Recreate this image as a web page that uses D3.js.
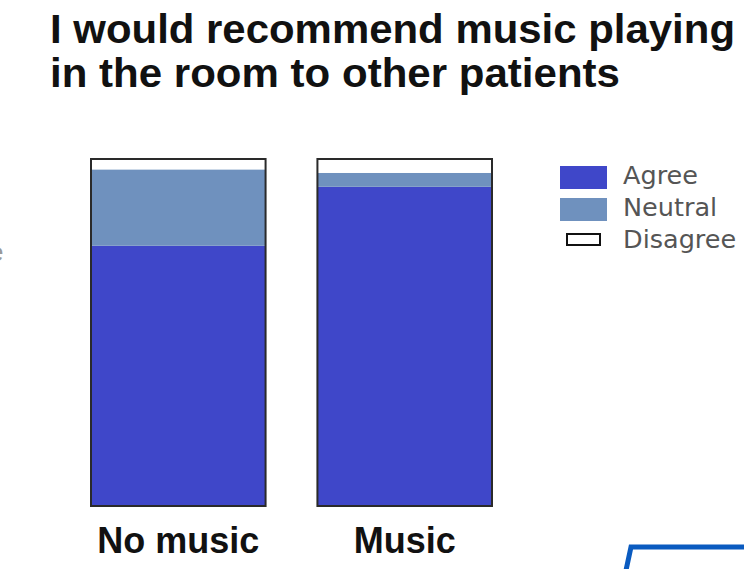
<!DOCTYPE html>
<html>
<head>
<meta charset="utf-8">
<script src="https://cdn.jsdelivr.net/npm/d3@7"></script>
<style>
  html, body { margin: 0; padding: 0; background: #fff; }
  svg { display: block; }
</style>
</head>
<body>
<svg id="chart" width="744" height="569"></svg>
<script>
const categories = ["No music", "Music"];
const seriesKeys = ["Agree", "Neutral", "Disagree"];
const agree = [75, 92];
const neutral = [22, 4];
const disagree = [3, 4];
const titleLines = ["I would recommend music playing", "in the room to other patients"];

const colors = { Agree: "#3f47c9", Neutral: "#6f91be", Disagree: "#ffffff" };

const rows = categories.map((c, i) => ({ cat: c, Agree: agree[i], Neutral: neutral[i], Disagree: disagree[i] }));

const svg = d3.select("#chart");
const font = "'Liberation Sans', Arial, sans-serif";

// Title
const title = svg.append("g");
title.append("text").attr("x", 50).attr("y", 43).attr("textLength", 685).text(titleLines[0]);
title.append("text").attr("x", 50).attr("y", 87).attr("textLength", 570).text(titleLines[1]);
title.selectAll("text")
  .attr("font-family", font).attr("font-weight", "bold")
  .attr("lengthAdjust", "spacingAndGlyphs")
  .attr("font-size", 40).attr("fill", "#111");

// Fragment at left edge
svg.append("text").attr("x", -11).attr("y", 261).attr("font-family", font)
  .attr("font-size", 26).attr("fill", "#999").text("e");

const x = d3.scaleBand().domain(categories).range([91, 492]).paddingInner(0.229).paddingOuter(0);
const y = d3.scaleLinear().domain([0, 100]).range([506, 159]);

const stack = d3.stack().keys(seriesKeys);
const stacked = stack(rows);

const gBars = svg.append("g");
gBars.selectAll("g.series").data(stacked).join("g")
  .attr("class", "series")
  .attr("fill", d => colors[d.key])
  .selectAll("rect").data(d => d).join("rect")
  .attr("x", d => x(d.data.cat))
  .attr("width", x.bandwidth())
  .attr("y", d => y(d[1]))
  .attr("height", d => y(d[0]) - y(d[1]));

// Outline
gBars.selectAll("rect.outline").data(rows).join("rect")
  .attr("class", "outline")
  .attr("x", d => x(d.cat))
  .attr("y", y(100))
  .attr("width", x.bandwidth())
  .attr("height", y(0) - y(100))
  .attr("fill", "none").attr("stroke", "#2a2a2a").attr("stroke-width", 2);

// Category axis labels
const xAxis = d3.axisBottom(x).tickSize(0).tickPadding(0);
const ax = svg.append("g").attr("transform", "translate(0,527)").call(xAxis);
ax.select(".domain").remove();
ax.selectAll("text")
  .attr("font-family", font).attr("font-weight", "bold")
  .attr("font-size", 36).attr("fill", "#111").attr("dy", "0.71em");

// Legend
const legend = svg.append("g");
const legY = [184, 216, 248];
seriesKeys.forEach((k, i) => {
  if (k === "Disagree") {
    legend.append("rect").attr("x", 567).attr("y", legY[i] - 14).attr("width", 33).attr("height", 11)
      .attr("fill", "#fff").attr("stroke", "#111").attr("stroke-width", 2);
  } else {
    legend.append("rect").attr("x", 560).attr("y", legY[i] - 18).attr("width", 47).attr("height", 23)
      .attr("fill", colors[k]);
  }
  legend.append("text").attr("x", 623).attr("y", legY[i])
    .attr("font-family", "'DejaVu Sans', sans-serif").attr("font-size", 25.5).attr("fill", "#555").text(k);
});

// Blue frame corner at bottom right
svg.append("path")
  .attr("d", "M 750 547 L 631 547 L 625 575")
  .attr("fill", "none").attr("stroke", "#0a5bc0").attr("stroke-width", 5).attr("stroke-linejoin", "miter");
</script>
</body>
</html>
